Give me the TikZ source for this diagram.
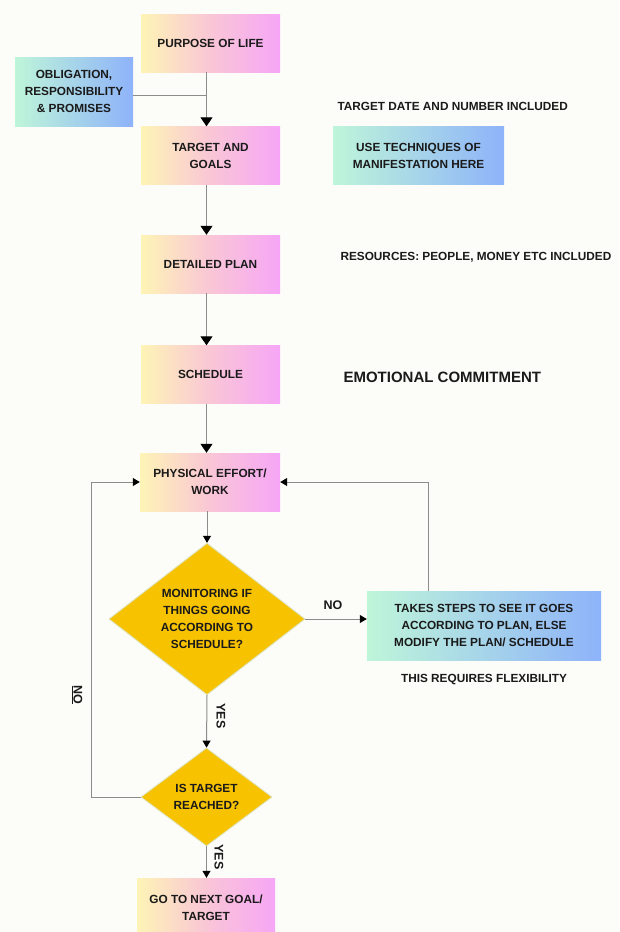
\documentclass[tikz,border=0pt]{standalone}
\usepackage{fontspec}
\setmainfont{Liberation Sans}
\usetikzlibrary{shapes.geometric,arrows.meta,calc}
\definecolor{bg}{HTML}{FCFDF8}
\definecolor{pkL}{HTML}{FEF4B6}
\definecolor{pkM}{HTML}{F9C6D6}
\definecolor{pkR}{HTML}{F6A6F6}
\definecolor{tlL}{HTML}{BFF5D9}
\definecolor{tlR}{HTML}{8EB3FA}
\definecolor{amber}{HTML}{F7C200}
\definecolor{amberedge}{HTML}{DCE2B8}
\definecolor{lin}{HTML}{8C8C8C}
\definecolor{ink}{HTML}{1A1A1A}
\begin{document}
\begin{tikzpicture}[x=1pt,y=-1pt,
  txt/.style={font=\bfseries\fontsize{11.8}{17}\selectfont, text=ink, align=center},
  pinkbox/.style={txt, rectangle, inner sep=0pt, left color=pkL, right color=pkR, middle color=pkM, minimum width=139pt, minimum height=58pt},
  tealbox/.style={txt, rectangle, inner sep=0pt, left color=tlL, right color=tlR},
  decision/.style={txt, diamond, fill=amber, draw=amberedge, line width=0.8pt, inner sep=0pt},
  link/.style={draw=lin, line width=1pt},
  bigarrow/.style={link, -{Triangle[length=9pt,width=12pt,color=black]}},
  smallarrow/.style={link, -{Triangle[length=7pt,width=8pt,color=black]}},
  lbl/.style={font=\bfseries\fontsize{12.5}{15}\selectfont, text=ink}]
\useasboundingbox (0,0) rectangle (619,932);
\clip (0,0) rectangle (619,932);
\fill[bg] (0,0) rectangle (619,932);

% nodes
\node[pinkbox] (purpose) at (210.5,43) {PURPOSE OF LIFE};
\node[tealbox, minimum width=118pt, minimum height=69pt] (oblig) at (74,91.5) {OBLIGATION,\\RESPONSIBILITY\\\& PROMISES};
\node[pinkbox] (target) at (210.5,155.5) {TARGET AND\\GOALS};
\node[tealbox, minimum width=171pt, minimum height=58pt] (manif) at (418.5,155.5) {USE TECHNIQUES OF\\MANIFESTATION HERE};
\node[txt, anchor=west] (tdate) at (334,106) {TARGET DATE AND NUMBER INCLUDED};
\node[pinkbox] (plan) at (210.5,264) {DETAILED PLAN};
\node[txt, anchor=west] (res) at (337,257) {RESOURCES: PEOPLE, MONEY ETC INCLUDED};
\node[pinkbox] (sched) at (210.5,374.5) {SCHEDULE};
\node[anchor=west, font=\bfseries\fontsize{15}{18}\selectfont, text=ink] (emo) at (340,377) {EMOTIONAL COMMITMENT};
\node[pinkbox, minimum width=140pt] (work) at (210,482) {PHYSICAL EFFORT/\\WORK};
\node[decision, minimum width=196pt, minimum height=145pt] (mon) at (207,619) {MONITORING IF\\THINGS GOING\\ACCORDING TO\\SCHEDULE?};
\node[tealbox, minimum width=234pt, minimum height=69pt] (steps) at (484,625.5) {TAKES STEPS TO SEE IT GOES\\ACCORDING TO PLAN, ELSE\\MODIFY THE PLAN/ SCHEDULE};
\node[txt] (flex) at (484,680) {THIS REQUIRES FLEXIBILITY};
\node[decision, minimum width=131pt, minimum height=98pt] (reach) at (206.5,797) {IS TARGET\\REACHED?};
\node[pinkbox, minimum width=138pt, minimum height=60pt] (next) at (206,908) {GO TO NEXT GOAL/\\TARGET};

% labels
\node[lbl] (nolbl) at (333,605) {NO};
\node[lbl, rotate=-90] (noleft) at (77,695) {\underline{NO}};
\node[lbl, rotate=-90] (yes1) at (221,716) {YES};
\node[lbl, rotate=-90] (yes2) at (219,857) {YES};

% connectors
\coordinate (j) at (206.5,95);
\draw[bigarrow] (purpose.south -| j) -- (target.north -| j);
\draw[link] (oblig.east |- j) -- (j);
\draw[bigarrow] (target.south -| j) -- (plan.north -| j);
\draw[bigarrow] (plan.south -| j) -- (sched.north -| j);
\draw[bigarrow] (sched.south -| j) -- (work.north -| j);
\draw[smallarrow] (work.south -| mon.north) -- (mon.north);
\draw[smallarrow] (mon.east) -- (mon.east -| steps.west);
\draw[smallarrow] ([xshift=-56pt]steps.north) |- (work.east);
\draw[smallarrow] (mon.south) -- (reach.north);
\draw[smallarrow] (reach.west) -- ++(-49,0) |- (work.west);
\draw[smallarrow] (reach.south) -- (reach.south |- next.north);
\end{tikzpicture}
\end{document}
